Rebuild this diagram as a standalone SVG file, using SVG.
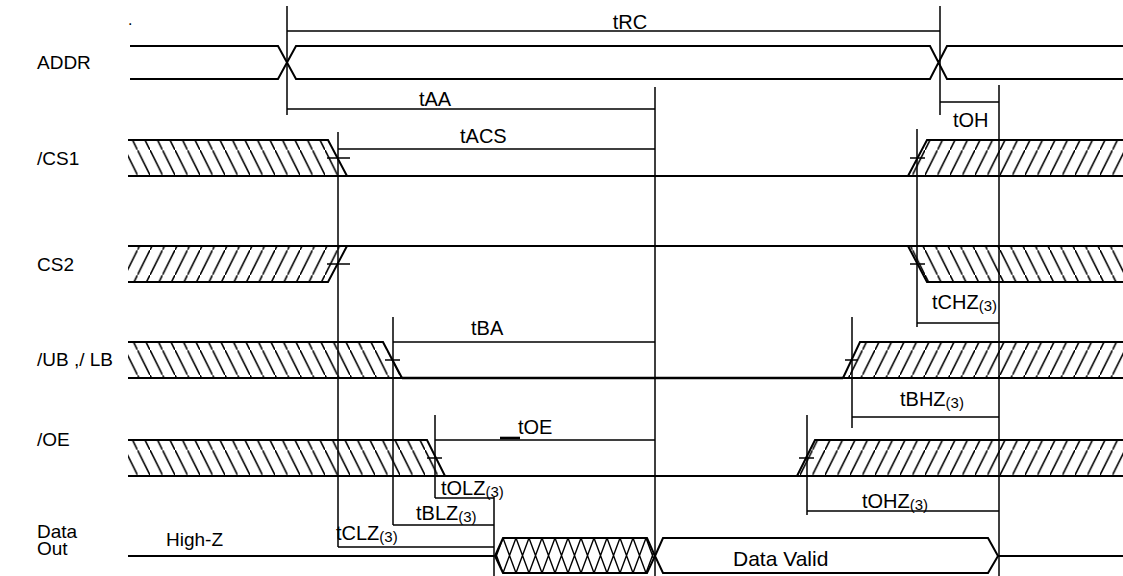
<svg xmlns="http://www.w3.org/2000/svg" width="1123" height="576" viewBox="0 0 1123 576">
<style>
text{font-family:"Liberation Sans",Arial,sans-serif;font-size:20px;fill:#000}
.lbl{font-size:19px}
.sub{font-size:15px}
.sig{fill:none;stroke:#000;stroke-width:2}
.thick{fill:none;stroke:#000;stroke-width:2.6}
.tm{fill:none;stroke:#000;stroke-width:1.5}
</style>
<defs>
<pattern id="hb" width="12.5" height="25" patternUnits="userSpaceOnUse"><path d="M-6.25,-12.5 L18.75,37.5" stroke="#000" stroke-width="1.6"/></pattern>
<pattern id="hf" width="12.5" height="25" patternUnits="userSpaceOnUse"><path d="M-6.25,37.5 L18.75,-12.5" stroke="#000" stroke-width="1.6"/></pattern>
<pattern id="hx" x="503" y="538" width="13" height="35" patternUnits="userSpaceOnUse"><path d="M0,0 L13,35 M13,0 L0,35" stroke="#000" stroke-width="1.4"/></pattern>
</defs>
<rect width="1123" height="576" fill="#fff"/>
<text x="128" y="25" style="font-size:16px">.</text>

<g id="addr">
<text class="lbl" x="37" y="69">ADDR</text>
<path class="sig" d="M130,46 H278 L296,79 H930 L947,46 H1123 M130,79 H278 L296,46 H930 L947,79 H1123"/>
</g>

<g id="cs1">
<text class="lbl" x="37" y="165">/CS1</text>
<polygon fill="url(#hb)" points="128,140 328,140 347,176 128,176"/>
<polygon fill="url(#hf)" points="908,176 927,140 1123,140 1123,176"/>
<path class="sig" d="M128,140 H328 L347,176 M128,176 H1123 M908,176 L927,140 H1123"/>
</g>

<g id="cs2">
<text class="lbl" x="37" y="271">CS2</text>
<polygon fill="url(#hf)" points="128,282 328,282 347,246 128,246"/>
<polygon fill="url(#hb)" points="908,246 927,282 1123,282 1123,246"/>
<path class="sig" d="M128,246 H1123 M128,282 H328 L347,246 M908,246 L927,282 H1123"/>
</g>

<g id="ublb">
<text class="lbl" x="37" y="366">/UB ,/ LB</text>
<polygon fill="url(#hb)" points="128,342 383,342 402,378 128,378"/>
<polygon fill="url(#hf)" points="843,378 860,342 1123,342 1123,378"/>
<path class="sig" d="M128,342 H383 L402,378 M128,378 H402 M843,378 H1123 M843,378 L860,342 H1123"/>
<path class="thick" d="M402,378 H843"/>
</g>

<g id="oe">
<text class="lbl" x="37" y="446">/OE</text>
<polygon fill="url(#hb)" points="128,440 427,440 445,476 128,476"/>
<polygon fill="url(#hf)" points="797,476 815,440 1123,440 1123,476"/>
<path class="sig" d="M128,440 H427 L445,476 M128,476 H1123 M797,476 L815,440 H1123"/>
</g>

<g id="dout">
<text class="lbl" x="37" y="538">Data</text>
<text class="lbl" x="37" y="555">Out</text>
<text class="lbl" x="166" y="546">High-Z</text>
<path class="sig" d="M128,556 H494"/>
<polygon fill="url(#hx)" stroke="#000" stroke-width="2" points="495,556 503,538 647,538 655,556 647,573 503,573"/>
<polygon fill="none" stroke="#000" stroke-width="2" points="655,556 663,538 988,538 998,556 988,573 663,573"/>
<text x="733" y="566" style="font-size:21px">Data Valid</text>
<path class="sig" d="M998,556 H1123"/>
</g>

<g id="connectors">
<path class="tm" d="M287,6 V115 M940,6 V115 M655,87 V576 M999,85 V576 M338,132 V547 M393,317 V525 M435,415 V498 M494,497 V576 M917,129 V327 M852,317 V428 M807,415 V515"/>
<path class="tm" d="M287,31 H940 M287,109 H655 M940,102 H999 M338,149 H655 M917,323 H999 M393,342 H655 M852,417 H999 M435,440 H655 M807,511 H999 M435,498 H494 M393,525 H494 M338,547 H494"/>
<path class="tm" d="M327,158 H350 M327,264 H350 M910,158 H925 M910,264 H925 M385,360 H400 M845,360 H858 M427,458 H442 M799,458 H814"/>
<path class="thick" d="M500,438 H520"/>
</g>

<g id="labels">
<text x="630" y="29" text-anchor="middle">tRC</text>
<text x="435" y="106" text-anchor="middle">tAA</text>
<text x="460" y="143">tACS</text>
<text x="953" y="127">tOH</text>
<text x="932" y="309">tCHZ<tspan class="sub" dy="2">(3)</tspan></text>
<text x="471" y="335">tBA</text>
<text x="900" y="406">tBHZ<tspan class="sub" dy="2">(3)</tspan></text>
<text x="518" y="434">tOE</text>
<text x="862" y="508">tOHZ<tspan class="sub" dy="2">(3)</tspan></text>
<text x="441" y="495">tOLZ<tspan class="sub" dy="2">(3)</tspan></text>
<text x="416" y="520">tBLZ<tspan class="sub" dy="2">(3)</tspan></text>
<text x="336" y="540">tCLZ<tspan class="sub" dy="2">(3)</tspan></text>
</g>
</svg>
